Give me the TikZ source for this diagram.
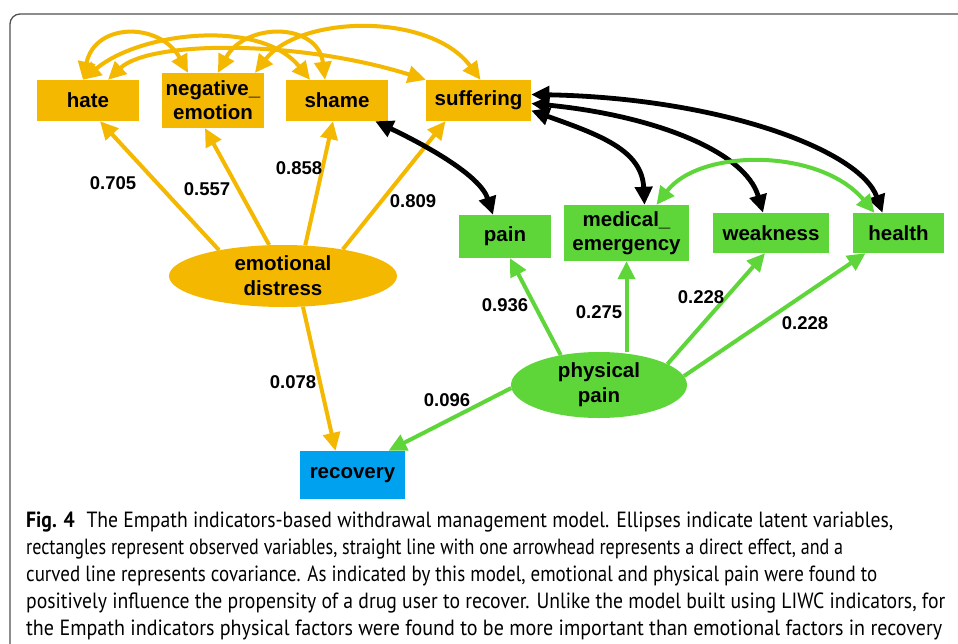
\documentclass[tikz,border=0pt]{standalone}
\usepackage{fontspec}
\usepackage{graphicx}
\setmainfont{Liberation Sans}
\newfontfamily\capfont{PT Sans}
\usetikzlibrary{arrows.meta,shapes.geometric}
\definecolor{org}{RGB}{245,184,0}
\definecolor{grn}{RGB}{94,214,58}
\definecolor{blu}{RGB}{0,162,240}
\definecolor{framegray}{RGB}{80,80,80}
\begin{document}
\begin{tikzpicture}[x=1pt,y=-1pt,
  obs/.style={rectangle, inner sep=0pt, align=center, font=\fontsize{20.5}{24}\selectfont\bfseries},
  lat/.style={ellipse, inner xsep=0pt, inner ysep=-12pt, align=center, font=\fontsize{20.5}{25}\selectfont\bfseries},
  coef/.style={inner sep=0pt, font=\fontsize{18.5}{20}\selectfont\bfseries},
  tipk/.tip={Triangle[length=18pt,width=17pt]},
  dirline/.style={line width=4pt, -tipk},
  covline/.style={line width=4pt, tipk-tipk},
  covblack/.style={line width=4.8pt, tipk-tipk, black},
  capline/.style={anchor=base west, inner sep=0pt, font=\capfont\fontsize{22}{26}\selectfont},
]
\useasboundingbox (0,0) rectangle (958,643);
\clip (0,0) rectangle (958,643);
\fill[white] (0,0) rectangle (958,643);
% frame
\draw[framegray, line width=1.3pt, rounded corners=10pt] (10,700) |- (1000,14);

% observed (orange)
\node[obs, fill=org, minimum width=102pt, minimum height=41pt] (hate) at (88,100.5) {hate};
\node[obs, fill=org, minimum width=102pt, minimum height=55pt] (neg) at (213,100.5) {negative\_\\emotion};
\node[obs, fill=org, minimum width=102pt, minimum height=41pt] (shame) at (337,100.5) {shame};
\node[obs, fill=org, minimum width=105pt, minimum height=41pt] (suffering) at (478.5,100.5) {suffering};
% observed (green)
\node[obs, fill=grn, minimum width=92pt, minimum height=43pt] (pain) at (505,236.5) {pain};
\node[obs, fill=grn, minimum width=125pt, minimum height=56pt] (medical) at (626.5,233) {medical\_\\emergency};
\node[obs, fill=grn, minimum width=116pt, minimum height=40pt] (weakness) at (771,233) {weakness};
\node[obs, fill=grn, minimum width=91pt, minimum height=40pt] (health) at (898.5,233) {health};
% recovery
\node[obs, fill=blu, minimum width=105pt, minimum height=48pt] (recovery) at (352.5,475) {recovery};
% latent
\node[lat, fill=org, minimum width=228pt, minimum height=62pt] (emo) at (283,276) {emotional\\distress};
\node[lat, fill=grn, minimum width=176pt, minimum height=66pt] (phys) at (599,385) {physical\\pain};

% direct effects from emotional distress
\draw[dirline, org] (emo.158.9) -- ([xshift=12pt]hate.south);
\draw[dirline, org] (emo.114) -- ([xshift=-8pt]neg.south);
\draw[dirline, org] (emo.54) -- ([xshift=-4pt]shame.south);
\draw[dirline, org] (emo.24) -- ([xshift=-33pt]suffering.south);
\draw[dirline, org] (emo.-57) -- ([xshift=-17pt]recovery.north);
% direct effects from physical pain
\draw[dirline, grn] (phys.142) -- ([xshift=5pt]pain.south);
\draw[dirline, grn] (phys.north -| medical.south) -- (medical.south);
\draw[dirline, grn] (phys.17) -- ([xshift=-6pt]weakness.south);
\draw[dirline, grn] (phys.6.6) -- ([xshift=-33pt]health.south);
\draw[dirline, grn] (phys.182.6) -- ([xshift=36pt]recovery.north);

% covariances among emotional indicators
\draw[covline, org] ([xshift=-5pt]hate.north) .. controls (95,22) and (160,22) .. ([xshift=-25pt]neg.north);
\draw[covline, org] ([xshift=-5pt]hate.north) .. controls (140,32) and (260,18) .. ([xshift=-27pt]shame.north);
\draw[covline, org] ([xshift=20pt]hate.north) .. controls (150,40) and (300,40) .. (suffering.north west);
\draw[covline, org] ([xshift=5pt]neg.north) .. controls (245,22) and (318,22) .. ([xshift=-12pt]shame.north);
\draw[covline, org] ([xshift=42pt]neg.north) .. controls (300,15) and (430,12) .. ([xshift=2pt]suffering.north);
% covariances (black)
\draw[covblack] ([xshift=-13pt]shame.south east) .. controls (425,145) and (480,175) .. ([xshift=-12pt]pain.north);
\draw[covblack] ([yshift=-10pt]suffering.east) .. controls (600,135) and (642,150) .. ([xshift=18pt]medical.north);
\draw[covblack] ([yshift=-3pt]suffering.east) .. controls (650,115) and (745,150) .. ([xshift=-8pt]weakness.north);
\draw[covblack] ([yshift=6pt]suffering.east) .. controls (720,98) and (860,150) .. ([xshift=-16pt]health.north);
% covariance (green)
\draw[covline, grn] ([xshift=30pt]medical.north) .. controls (700,148) and (820,148) .. ([xshift=-24pt]health.north);

% coefficients
\node[coef] (c1) at (113,183) {0.705};
\node[coef] (c2) at (207,189) {0.557};
\node[coef] (c3) at (299,168) {0.858};
\node[coef] (c4) at (413,201) {0.809};
\node[coef] (c5) at (293,382) {0.078};
\node[coef] (c6) at (447,400) {0.096};
\node[coef] (c7) at (505,305) {0.936};
\node[coef] (c8) at (599,312) {0.275};
\node[coef] (c9) at (701,297) {0.228};
\node[coef] (c10) at (805,323) {0.228};

% caption
\node[capline] (cap1) at (26,527) {\resizebox{867pt}{\height}{\textbf{Fig. 4}\hspace{0.6em}The Empath indicators-based withdrawal management model. Ellipses indicate latent variables,}};
\node[capline] (cap2) at (26,554) {\resizebox{817pt}{\height}{rectangles represent observed variables, straight line with one arrowhead represents a direct effect, and a}};
\node[capline] (cap3) at (26,581) {\resizebox{851pt}{\height}{curved line represents covariance. As indicated by this model, emotional and physical pain were found to}};
\node[capline] (cap4) at (26,608) {\resizebox{919pt}{\height}{positively influence the propensity of a drug user to recover. Unlike the model built using LIWC indicators, for}};
\node[capline] (cap5) at (26,635) {\resizebox{916pt}{\height}{the Empath indicators physical factors were found to be more important than emotional factors in recovery}};
\end{tikzpicture}
\end{document}
